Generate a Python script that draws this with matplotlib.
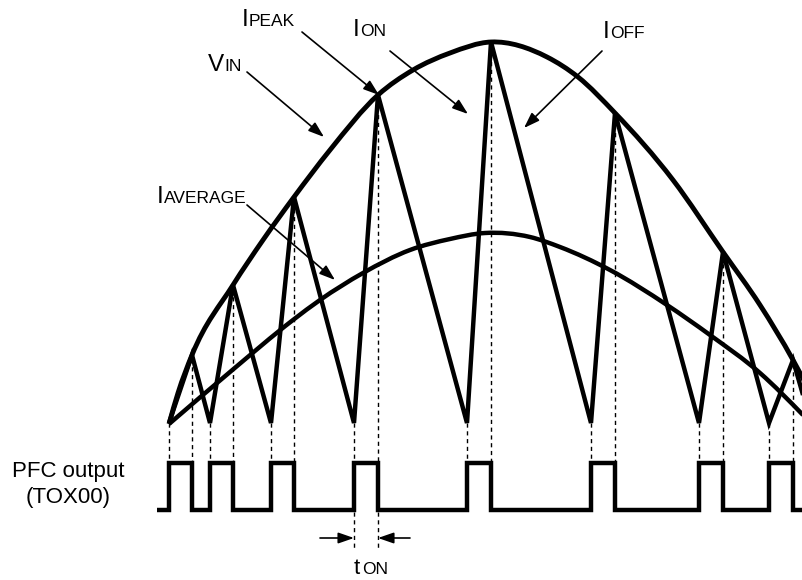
import matplotlib
matplotlib.use("Agg")
import matplotlib.pyplot as plt
from matplotlib.path import Path
from matplotlib.patches import PathPatch
import numpy as np

plt.rcParams['font.family'] = ['Liberation Sans', 'DejaVu Sans']

# ---- data (diagram coordinates, y grows downward) ----
valley_x = [169, 210, 271, 354, 467, 591, 699, 769, 811]
peak_x = [192, 233, 294, 378, 491, 615, 723, 793]
peak_y = [355, 285, 197, 95, 42, 113, 252, 360]
valley_level = 423

vin_x = [169, 178, 192, 233, 263, 294, 330, 378, 413, 450, 491,
         547, 578, 615, 673, 723, 760, 793, 812]
vin_y = [424, 393, 355, 285, 240, 197, 150, 95, 70, 53, 42,
         57, 77, 113, 180, 252, 305, 360, 396]

iavg_x = [169, 230, 293, 320, 363, 410, 450, 485, 530, 560, 610, 667, 710,
          760, 803]
iavg_y = [424, 372, 320, 300, 273, 250, 239, 233, 237, 247, 270, 305, 335,
          373, 415]

pulse_low, pulse_high = 510, 463
pulse_start, pulse_end = 157, 803

# labels: (big letter, small caps rest, x of big, x of rest, baseline, arrow start, arrow tip)
labels = [
    ("I", "PEAK", 242, 249, 26, (302, 32), (379, 95)),
    ("I", "ON", 353, 360, 36.5, (390, 51), (468, 114)),
    ("I", "OFF", 603, 610, 38, (602, 51), (524, 128)),
    ("V", "IN", 208, 224, 71, (247, 72), (324, 137)),
    ("I", "AVERAGE", 157, 164, 203, (247, 205), (335, 280)),
]

fig = plt.figure(figsize=(8.03, 5.80), dpi=100)
ax = fig.add_axes([0, 0, 1, 1])
ax.set_xlim(0, 803)
ax.set_ylim(580, 0)
ax.axis('off')

LW = 3.2


def smooth_curve(xs, ys, lw):
    """Draw a smooth curve through the read points as Hermite cubic Beziers."""
    x = np.asarray(xs, float)
    y = np.asarray(ys, float)
    h = np.diff(x)
    s = np.diff(y) / h
    n = len(x)
    m = np.empty(n)
    for i in range(1, n - 1):
        m[i] = (h[i - 1] * s[i] + h[i] * s[i - 1]) / (h[i - 1] + h[i])
    m[0] = 1.5 * s[0] - 0.5 * m[1]
    m[-1] = 1.5 * s[-1] - 0.5 * m[-2]
    verts = [(x[0], y[0])]
    codes = [Path.MOVETO]
    for i in range(n - 1):
        d = h[i] / 3.0
        verts += [(x[i] + d, y[i] + m[i] * d),
                  (x[i + 1] - d, y[i + 1] - m[i + 1] * d),
                  (x[i + 1], y[i + 1])]
        codes += [Path.CURVE4] * 3
    ax.add_patch(PathPatch(Path(verts, codes), facecolor='none',
                           edgecolor='black', lw=lw, capstyle='butt'))


# triangle current waveform
tri_x, tri_y = [], []
for i, vx in enumerate(valley_x):
    tri_x.append(vx); tri_y.append(valley_level)
    if i < len(peak_x):
        tri_x.append(peak_x[i]); tri_y.append(peak_y[i])
ax.plot(tri_x, tri_y, color='black', lw=LW, solid_joinstyle='miter', solid_capstyle='butt')

# envelopes
smooth_curve(vin_x, vin_y, LW + 0.3)
smooth_curve(iavg_x, iavg_y, LW)

# dashed guide lines
dash = (0, (3.0, 2.6))
for vx in valley_x[:-1]:
    ax.plot([vx, vx], [valley_level, pulse_high], color='black', lw=1.0, ls=dash)
for px, py in zip(peak_x, peak_y):
    ax.plot([px, px], [py + 4, pulse_high], color='black', lw=1.0, ls=dash)

# PWM output
px_, py_ = [pulse_start], [pulse_low]
for r, f in zip(valley_x[:-1], peak_x):
    px_ += [r, r, f, f]
    py_ += [pulse_low, pulse_high, pulse_high, pulse_low]
px_.append(pulse_end); py_.append(pulse_low)
ax.plot(px_, py_, color='black', lw=LW, solid_joinstyle='miter', solid_capstyle='butt')

# tON marker
ton_i = 3
t0, t1 = valley_x[ton_i], peak_x[ton_i]
for xx in (t0, t1):
    ax.plot([xx, xx], [pulse_low + 2, 548], color='black', lw=1.0, ls=dash)
astyle = dict(arrowstyle='-|>,head_length=0.95,head_width=0.33', color='black',
              lw=1.2, mutation_scale=10, shrinkA=0, shrinkB=0)
ax.annotate('', xy=(t0, 538), xytext=(320, 538), arrowprops=astyle)
ax.annotate('', xy=(t1, 538), xytext=(410, 538), arrowprops=astyle)
ax.text(354, 574, "t", fontsize=16, ha='left', va='baseline')
ax.text(362, 574, "ON", fontsize=12.5, ha='left', va='baseline')

# labels with arrows
for big, small, xb, xs, base, a0, a1 in labels:
    ax.text(xb, base, big, fontsize=17.5, ha='left', va='baseline')
    ax.text(xs, base, small, fontsize=12.5, ha='left', va='baseline')
    ax.annotate('', xy=a1, xytext=a0, arrowprops=astyle)

ax.text(68, 477, "PFC output", fontsize=16, ha='center', va='baseline')
ax.text(68, 503, "(TOX00)", fontsize=16, ha='center', va='baseline')

fig.savefig("out.png", dpi=100)
